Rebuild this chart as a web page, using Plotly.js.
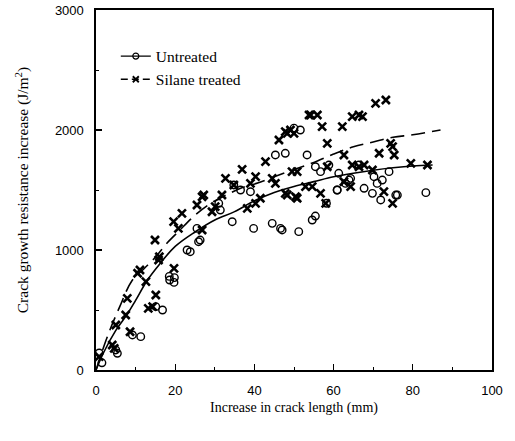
<!DOCTYPE html>
<html>
<head>
<meta charset="utf-8">
<script src="https://cdn.plot.ly/plotly-3.0.1.min.js"></script>
<style>body{margin:0;background:#fff;} #chart{width:515px;height:441px;}</style>
</head>
<body>
<div id="chart"></div>
<script>
// Untreated data (open circles)
const untreatedX = [0.8, 1.5, 5.0, 5.4, 9.2, 11.3, 15.1, 16.8, 18.5, 19.7, 18.6, 19.8, 23.0, 23.8, 25.9, 25.5, 26.3,
  31.0, 31.4, 34.4, 34.8, 36.5, 39.0, 39.8, 44.5, 46.6, 47.0, 51.2, 54.6, 55.4, 45.3, 47.8, 51.6, 50.0, 53.3,
  55.4, 56.7, 58.8, 61.3, 63.0, 64.3, 60.9, 58.2, 66.4, 67.7, 69.8, 71.9, 70.2, 71.0, 72.3, 74.0, 75.7, 76.1, 83.3, 60.9, 63.9];
const untreatedY = [142, 60, 167, 139, 292, 278, 528, 500, 780, 730, 750, 770, 1000, 986, 1069, 1180, 1083,
  1389, 1333, 1236, 1542, 1500, 1486, 1180, 1222, 1180, 1167, 1153, 1250, 1283, 1792, 1806, 2000, 2016, 1792,
  1694, 1653, 1708, 1639, 1555, 1597, 1500, 1389, 1708, 1514, 1472, 1417, 1611, 1555, 1583, 1653, 1458, 1458, 1478, 1500, 1583];

// Silane treated data (crosses)
const silaneX = [0.8, 4.1, 4.6, 5.0, 7.5, 7.9, 8.6, 10.5, 12.6, 11.1, 14.3, 15.1, 15.8, 16.0, 14.9, 13.2, 19.7,
  19.6, 20.8, 21.7, 25.5, 26.8, 26.8, 27.2, 29.3, 30.1, 31.8, 32.7, 34.8, 36.9, 38.2, 39.0, 40.3, 40.3, 41.5,
  42.8, 44.5, 46.2, 47.8, 48.3, 49.1, 50.0, 45.3, 48.3, 50.8, 52.9, 53.8, 54.6, 49.5, 50.8, 47.8, 50.4,
  54.2, 55.9, 57.1, 58.4, 62.2, 62.6, 64.7, 66.4, 58.4, 64.7, 66.4, 56.7, 58.0, 62.6, 64.3,
  67.3, 70.6, 73.2, 71.5, 75.3, 74.4, 74.9, 79.5, 83.7, 67.7, 69.8, 72.7, 74.9];
const silaneY = [111, 208, 180, 375, 458, 597, 319, 806, 736, 833, 528, 625, 917, 944, 1083, 514, 847,
  1236, 1180, 1305, 1375, 1444, 1167, 1458, 1319, 1361, 1458, 1597, 1542, 1672, 1347, 1555, 1611, 1389, 1431,
  1736, 1597, 1917, 1986, 1458, 2000, 1972, 1555, 1972, 1431, 1528, 2125, 1528, 1653, 1653, 1472, 1444,
  2125, 2125, 2028, 1889, 2028, 1792, 2111, 2125, 1694, 1708, 1694, 1472, 1389, 1569, 1528,
  2111, 2222, 2250, 1806, 1792, 1889, 1861, 1722, 1708, 1708, 1667, 1486, 1389];

// Fitted curves
const fitUntreatedX = [0, 2, 5, 8, 10, 13, 16, 20, 25, 30, 35, 40, 45, 50, 55, 60, 65, 70, 75, 80, 85];
const fitUntreatedY = [0, 150, 330, 470, 580, 750, 880, 1030, 1150, 1250, 1320, 1410, 1480, 1530, 1570, 1610, 1640, 1665, 1685, 1700, 1708];
const fitSilaneX = [0, 3, 6, 9, 12, 15, 18, 21, 25, 29, 33, 37, 41, 45, 50, 55, 60, 65, 70, 75, 80, 87];
const fitSilaneY = [0, 290, 528, 740, 840, 940, 1060, 1160, 1290, 1390, 1460, 1520, 1560, 1610, 1670, 1730, 1800, 1860, 1900, 1940, 1960, 2000];

const xTicks = [0, 20, 40, 60, 80, 100];
const yTicks = [0, 1000, 2000, 3000];
const seriesNames = ['Untreated', 'Silane treated'];

const serif = 'Liberation Serif, Times New Roman, serif';
const sans = 'Liberation Sans, Arial, sans-serif';

const circleMarker = {symbol: 'circle-open', size: 7.5, color: '#000', line: {color: '#000', width: 1.4}};
const crossMarker = {symbol: 'x-thin-open', size: 8, color: '#000', line: {color: '#000', width: 2.6}};

const traces = [
  {x: untreatedX, y: untreatedY, mode: 'markers', marker: circleMarker, showlegend: false, cliponaxis: false},
  {x: silaneX, y: silaneY, mode: 'markers', marker: crossMarker, showlegend: false, cliponaxis: false},
  {x: fitUntreatedX, y: fitUntreatedY, mode: 'lines', line: {color: '#000', width: 1.6, shape: 'spline'}, showlegend: false},
  {x: fitSilaneX, y: fitSilaneY, mode: 'lines', line: {color: '#000', width: 1.6, dash: '14px,7px', shape: 'spline'}, showlegend: false},
  {x: [null], y: [null], name: seriesNames[0], mode: 'lines+markers', line: {color: '#000', width: 1.4},
   marker: {symbol: 'circle-open', size: 6, color: '#000', line: {color: '#000', width: 1.2}}},
  {x: [null], y: [null], name: seriesNames[1], mode: 'lines+markers', line: {color: '#000', width: 1.4, dash: '7px,4px'},
   marker: {symbol: 'x-thin-open', size: 6, color: '#000', line: {color: '#000', width: 1.8}}}
];

const layout = {
  width: 515, height: 441,
  margin: {l: 96, r: 23, t: 10, b: 71},
  paper_bgcolor: '#fff', plot_bgcolor: '#fff',
  showlegend: true,
  legend: {x: 0.05, y: 0.918, xanchor: 'left', yanchor: 'top', bgcolor: 'rgba(0,0,0,0)',
    font: {family: serif, size: 15.5, color: '#000'}, itemwidth: 30},
  xaxis: {
    range: [0, 100], tickvals: xTicks, ticktext: xTicks.map(String),
    ticks: 'inside', ticklen: 6, tickwidth: 1.2, tickcolor: '#000',
    minor: {dtick: 10, ticks: 'inside', ticklen: 3, tickcolor: '#000', tickwidth: 1},
    showline: true, linecolor: '#000', linewidth: 1.6, mirror: true,
    showgrid: false, zeroline: false, ticklabelstandoff: 8,
    tickfont: {family: sans, size: 13, color: '#000'},
    title: {text: 'Increase in crack length (mm)', font: {family: serif, size: 14, color: '#000'}, standoff: 5}
  },
  yaxis: {
    range: [0, 3000], tickvals: yTicks, ticktext: yTicks.map(String),
    ticks: 'inside', ticklen: 6, tickwidth: 1.2, tickcolor: '#000',
    minor: {dtick: 500, ticks: 'inside', ticklen: 3, tickcolor: '#000', tickwidth: 1},
    showline: true, linecolor: '#000', linewidth: 1.6, mirror: true,
    showgrid: false, zeroline: false, ticklabelstandoff: 8,
    tickfont: {family: sans, size: 13, color: '#000'},
    title: {text: 'Crack growth resistance increase (J/m<sup>2</sup>)', font: {family: serif, size: 15.5, color: '#000'}, standoff: 22}
  }
};

Plotly.newPlot('chart', traces, layout, {displayModeBar: false, staticPlot: true});
</script>
</body>
</html>
